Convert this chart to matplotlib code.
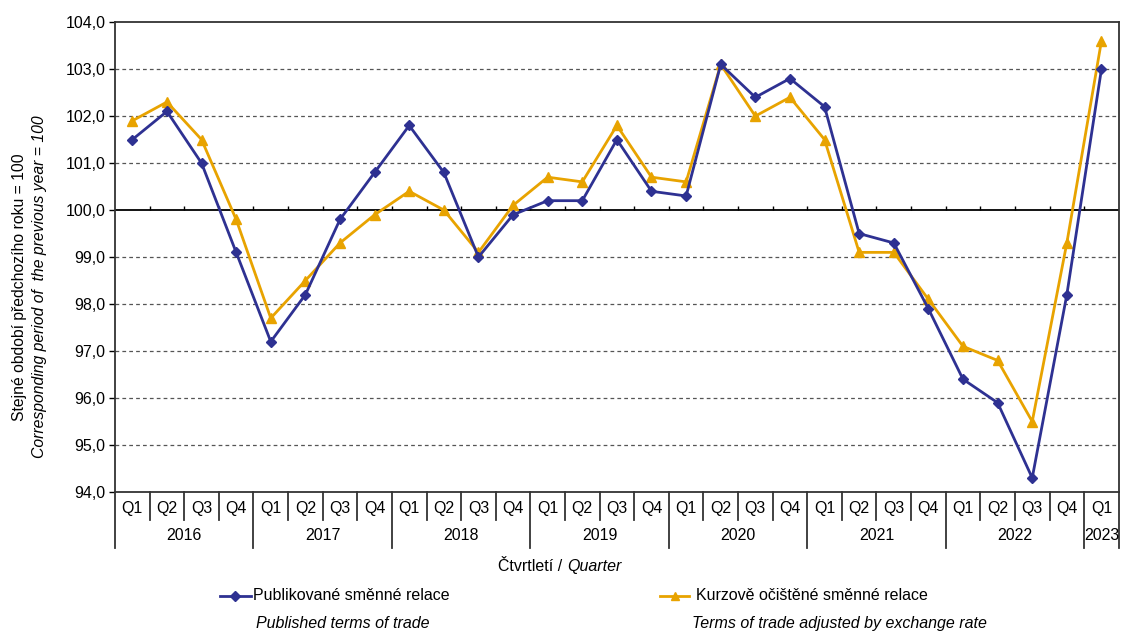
import numpy as np
import matplotlib.pyplot as plt
from matplotlib.lines import Line2D
import matplotlib.transforms as mtransforms

plt.rcParams['font.family'] = ['Liberation Sans', 'DejaVu Sans']

years = ['2016', '2017', '2018', '2019', '2020', '2021', '2022', '2023']
quarters = ['Q1', 'Q2', 'Q3', 'Q4'] * 7 + ['Q1']
published = [101.5, 102.1, 101.0, 99.1,
             97.2, 98.2, 99.8, 100.8,
             101.8, 100.8, 99.0, 99.9,
             100.2, 100.2, 101.5, 100.4,
             100.3, 103.1, 102.4, 102.8,
             102.2, 99.5, 99.3, 97.9,
             96.4, 95.9, 94.3, 98.2,
             103.0]
adjusted = [101.9, 102.3, 101.5, 99.8,
            97.7, 98.5, 99.3, 99.9,
            100.4, 100.0, 99.1, 100.1,
            100.7, 100.6, 101.8, 100.7,
            100.6, 103.1, 102.0, 102.4,
            101.5, 99.1, 99.1, 98.1,
            97.1, 96.8, 95.5, 99.3,
            103.6]

blue = '#2e3192'
orange = '#e8a300'
fs = 11.5

fig = plt.figure(figsize=(11.21, 6.32), dpi=100)
ax = fig.add_axes([0.1026, 0.2215, 0.8954, 0.7435])

x = np.arange(len(quarters))
ax.plot(x, published, color=blue, lw=2, marker='D', ms=5.5, zorder=4)
ax.plot(x, adjusted, color=orange, lw=2, marker='^', ms=7, zorder=3)

ax.set_xlim(-0.5, len(quarters) - 0.5)
ax.set_ylim(94, 104)
yt = np.arange(94, 105, 1)
ax.set_yticks(yt)
ax.set_yticklabels([f'{v:.1f}'.replace('.', ',') for v in yt], fontsize=fs)
ax.tick_params(axis='y', length=4, width=1, direction='out', pad=3)
ax.set_xticks([])
for v in yt[1:-1]:
    if v == 100:
        ax.axhline(v, color='black', lw=1.3, zorder=2)
    else:
        ax.axhline(v, color='#555555', lw=0.9, ls=(0, (3, 2.5)), zorder=1)
for s in ax.spines.values():
    s.set_color('#333333')
    s.set_linewidth(1.3)

# small ticks on the 100 line at quarter boundaries
bounds = np.arange(0.5, len(quarters) - 1, 1)
ax.vlines(bounds, 100, 100.09, color='black', lw=1, zorder=2)

# category table under the axis
trans = mtransforms.blended_transform_factory(ax.transData, ax.transAxes)
for i, q in enumerate(quarters):
    ax.text(i, -0.035, q, transform=trans, ha='center', va='center', fontsize=fs)
year_bounds = [-0.5, 3.5, 7.5, 11.5, 15.5, 19.5, 23.5, 27.5, 28.5]
for b in np.arange(-0.5, len(quarters) + 0.5, 1):
    low = -0.119 if b in year_bounds else -0.06
    ax.add_line(Line2D([b, b], [0, low], transform=trans, color='#333333',
                       lw=1.3, clip_on=False))
for k, yr in enumerate(years):
    c = (year_bounds[k] + year_bounds[k + 1]) / 2
    ax.text(c, -0.093, yr, transform=trans, ha='center', va='center', fontsize=fs)

fig.text(0.506, 0.103, 'Čtvrtletí / ', ha='right', va='center', fontsize=fs)
fig.text(0.506, 0.103, 'Quarter', ha='left', va='center', fontsize=fs, style='italic')

# y label
fig.text(0.017, 0.546, 'Stejné období předchozího roku = 100', rotation=90,
         ha='center', va='center', fontsize=11.3)
fig.text(0.035, 0.546, 'Corresponding period of  the previous year = 100', rotation=90,
         ha='center', va='center', fontsize=11.3, style='italic')

# legend
fig.add_artist(Line2D([0.196, 0.210, 0.224], [0.057, 0.057, 0.057], color=blue, lw=2,
                      marker='D', ms=5, markevery=[1], transform=fig.transFigure))
fig.text(0.226, 0.057, 'Publikované směnné relace', ha='left', va='center', fontsize=fs)
fig.text(0.306, 0.014, 'Published terms of trade', ha='center', va='center',
         fontsize=fs, style='italic')
fig.add_artist(Line2D([0.589, 0.602, 0.615], [0.057, 0.057, 0.057], color=orange, lw=2,
                      marker='^', ms=6, markevery=[1], transform=fig.transFigure))
fig.text(0.621, 0.057, 'Kurzově očištěné směnné relace', ha='left', va='center', fontsize=fs)
fig.text(0.749, 0.014, 'Terms of trade adjusted by exchange rate', ha='center', va='center',
         fontsize=fs, style='italic')

fig.savefig('out.png', dpi=100)
